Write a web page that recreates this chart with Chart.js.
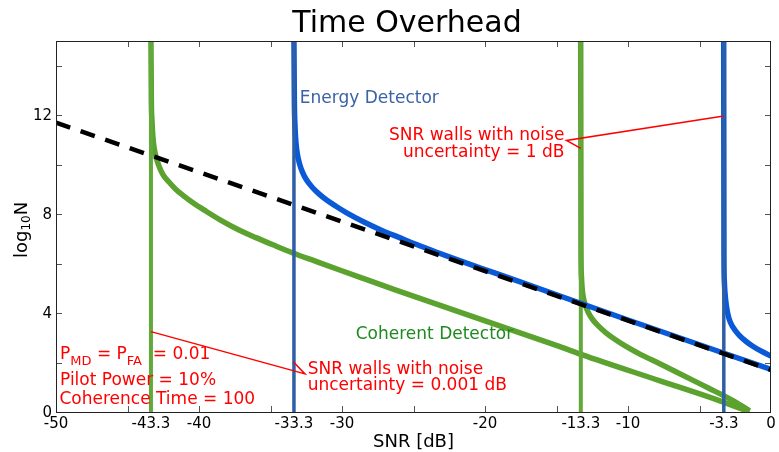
<!DOCTYPE html>
<html>
<head>
<meta charset="utf-8">
<script src="https://cdn.jsdelivr.net/npm/chart.js@4.4.1/dist/chart.umd.min.js"></script>
<style>
  html, body { margin: 0; padding: 0; background: #fff; }
</style>
</head>
<body>
<canvas id="c" width="779" height="452"></canvas>
<script>
// axis range and ticks
const xMin = -50, xMax = 0, yMin = 0, yMax = 15;
const xTickValues = [-50, -43.36, -40, -33.36, -30, -20, -13.3, -10, -3.3, 0];
const xTickLabels = ['-50', '-43.3', '-40', '-33.3', '-30', '-20', '-13.3', '-10', '-3.3', '0'];
const yTickValues = [0, 4, 8, 12];
const xMinorTicks = [-45, -40, -35, -30, -25, -20, -15, -10, -5];
const yMinorTicks = [2, 4, 6, 8, 10, 12, 14];

// energy detector without uncertainty (dashed)
const idealX = [-50, 0];
const idealY = [11.7, 1.7];

// energy detector, noise uncertainty 0.001 dB
const energyAX = [-33.37, -33.332, -33.29, -33.22, -33.129, -32.975, -32.78, -32.521, -32.101, -31.612, -31.052, -30.423, -29.514, -28.465, -27.206, -26.017, -24.829, -23.43, -21.822, -20.213, -18.325, -10, 0];
const energyAY = [16, 12.6, 11.6, 10.9, 10.45, 10.05, 9.72, 9.42, 9.1, 8.82, 8.56, 8.32, 8.0, 7.68, 7.34, 7.06, 6.78, 6.47, 6.13, 5.8, 5.42, 3.72, 1.72];

// energy detector, noise uncertainty 1 dB
const energyBX = [-3.31, -3.29, -3.265, -3.216, -3.111, -2.95, -2.671, -2.251, -1.713, -1.272, -0.783, 0];
const energyBY = [16, 6.5, 5.3, 4.8, 4.26, 3.8, 3.44, 3.12, 2.84, 2.66, 2.49, 2.26];

// coherent detector, 0.001 dB
const coherentAX = [-43.37, -43.332, -43.29, -43.22, -43.129, -42.975, -42.78, -42.521, -42.101, -41.612, -41.052, -40.423, -39.514, -38.465, -37.206, -36.017, -34.829, -33.43, -31.822, -30.213, -28.325, -26.227, -14.76, -13.24, -7.76, -3.57, -1.5];
const coherentAY = [16, 12.6, 11.8, 11.1, 10.65, 10.25, 9.92, 9.6, 9.3, 9.0, 8.73, 8.46, 8.12, 7.75, 7.36, 7.05, 6.76, 6.43, 6.09, 5.75, 5.36, 4.93, 2.64, 2.32, 1.26, 0.45, 0];

// coherent detector, 1 dB
const coherentBX = [-13.31, -13.286, -13.258, -13.216, -13.174, -13.076, -12.936, -12.741, -12.475, -12.111, -11.538, -10.922, -10.139, -9.104, -7.81, -6.657, -5.482, -4.349, -3.146, -2.391, -1.5];
const coherentBY = [16, 6.5, 5.5, 5.08, 4.82, 4.5, 4.24, 3.98, 3.74, 3.5, 3.2, 2.94, 2.65, 2.32, 1.96, 1.63, 1.29, 0.96, 0.61, 0.37, 0.05];

// SNR walls
const greenWalls = [-43.36, -13.3];
const blueWalls = [-33.36, -3.3];

const green = '#5ca22f';
const greenWall = '#62a83a';
const blue = '#0a5ad8';
const blueWall = '#2d5ea6';
const red = '#ff0000';
const FONT = '"DejaVu Sans", sans-serif';

const pts = (xs, ys) => xs.map((v, i) => ({ x: v, y: ys[i] }));
const wall = v => [{ x: v, y: yMin }, { x: v, y: yMax }];

const curve = (data, color, width, order) => ({
  data, borderColor: color, borderWidth: width, pointRadius: 0,
  cubicInterpolationMode: 'monotone', fill: false, order
});

const datasets = [
  { data: pts(idealX, idealY), borderColor: '#000', borderWidth: 4.5, borderDash: [15, 11], pointRadius: 0, order: 0 },
  curve(wall(blueWalls[0]), blueWall, 3.5, 1),
  curve(wall(blueWalls[1]), blueWall, 3.5, 1),
  curve(pts(energyAX, energyAY), blue, 5.5, 2),
  curve(pts(energyBX, energyBY), blue, 5.5, 2),
  curve(wall(greenWalls[0]), greenWall, 4, 3),
  curve(wall(greenWalls[1]), greenWall, 4, 3),
  curve(pts(coherentAX, coherentAY), green, 5.5, 4),
  curve(pts(coherentBX, coherentBY), green, 5.5, 4)
];

function drawRuns(ctx, runs, x, y, rotate) {
  // runs: [text, size, dy]
  ctx.save();
  ctx.translate(x, y);
  if (rotate) ctx.rotate(-Math.PI / 2);
  let cx = 0;
  for (const [t, size, dy] of runs) {
    ctx.font = size + 'px ' + FONT;
    ctx.fillText(t, cx, dy);
    cx += ctx.measureText(t).width;
  }
  ctx.restore();
}

const overlay = {
  id: 'overlay',
  beforeDatasetsDraw(chart) {
    const { ctx, chartArea: a, scales: { x, y } } = chart;
    ctx.save();
    ctx.strokeStyle = '#555';
    ctx.lineWidth = 1;
    ctx.beginPath();
    for (const v of xMinorTicks) {
      const px = Math.round(x.getPixelForValue(v)) + 0.5;
      ctx.moveTo(px, a.bottom); ctx.lineTo(px, a.bottom - 6);
      ctx.moveTo(px, a.top); ctx.lineTo(px, a.top + 6);
    }
    for (const v of yMinorTicks) {
      const py = Math.round(y.getPixelForValue(v)) + 0.5;
      ctx.moveTo(a.left, py); ctx.lineTo(a.left + 6, py);
      ctx.moveTo(a.right, py); ctx.lineTo(a.right - 6, py);
    }
    ctx.stroke();
    ctx.restore();
  },
  afterDatasetsDraw(chart) {
    const { ctx, chartArea: a, scales: { x, y } } = chart;
    const X = v => x.getPixelForValue(v), Y = v => y.getPixelForValue(v);
    ctx.save();
    // frame
    ctx.strokeStyle = '#222';
    ctx.lineWidth = 1;
    ctx.strokeRect(a.left + 0.5, a.top + 0.5, a.right - a.left - 1, a.bottom - a.top);

    // pointer lines
    ctx.strokeStyle = red;
    ctx.lineWidth = 1.5;
    ctx.beginPath();
    ctx.moveTo(X(-3.3), Y(11.97)); ctx.lineTo(X(-14.3), Y(10.98)); ctx.lineTo(X(-13.3), Y(10.66));
    ctx.moveTo(X(-43.36), Y(3.25)); ctx.lineTo(X(-32.59), Y(1.54)); ctx.lineTo(X(-33.41), Y(2.03));
    ctx.stroke();

    ctx.textBaseline = 'alphabetic';
    // curve labels
    ctx.fillStyle = '#3b62a6';
    ctx.font = '17px ' + FONT;
    ctx.textAlign = 'left';
    ctx.fillText('Energy Detector', X(-32.95), Y(12.5));
    ctx.fillStyle = '#1f8a1f';
    ctx.fillText('Coherent Detector', X(-29.04), Y(2.95));

    // wall notes
    ctx.fillStyle = red;
    ctx.textAlign = 'right';
    ctx.fillText('SNR walls with noise', X(-14.45), Y(11.0));
    ctx.fillText('uncertainty = 1 dB', X(-14.45), Y(10.32));
    ctx.textAlign = 'left';
    ctx.fillText('SNR walls with noise', X(-32.4), Y(1.54));
    ctx.fillText('uncertainty = 0.001 dB', X(-32.4), Y(0.89));

    // parameters
    drawRuns(ctx, [['P', 17, 0], ['MD', 13, 6], [' = P', 17, 0], ['FA', 13, 6], ['  = 0.01', 17, 0]], X(-49.72), Y(2.14), false);
    ctx.font = '17px ' + FONT;
    ctx.fillText('Pilot Power = 10%', X(-49.72), Y(1.09));
    ctx.fillText('Coherence Time = 100', X(-49.76), Y(0.32));

    // title and axis titles
    ctx.fillStyle = '#000';
    ctx.textAlign = 'center';
    ctx.font = '30px ' + FONT;
    ctx.fillText('Time Overhead', 407, 32);
    ctx.font = '18px ' + FONT;
    ctx.fillText('SNR [dB]', (a.left + a.right) / 2, 447);
    ctx.textAlign = 'left';
    drawRuns(ctx, [['log', 18, 0], ['10', 12, 3], ['N', 18, 0]], 27, 258, true);
    ctx.restore();
  }
};

new Chart(document.getElementById('c'), {
  type: 'line',
  data: { datasets },
  options: {
    responsive: false,
    devicePixelRatio: 1,
    animation: false,
    layout: { padding: { top: 41, right: 8, left: 0, bottom: 0 } },
    plugins: { legend: { display: false }, tooltip: { enabled: false }, title: { display: false } },
    elements: { line: { tension: 0 } },
    scales: {
      x: {
        type: 'linear', min: xMin, max: xMax,
        grid: { display: false, drawTicks: false }, border: { display: false },
        afterBuildTicks: s => { s.ticks = xTickValues.map(v => ({ value: v })); },
        afterFit: s => { s.height = 40; },
        ticks: {
          autoSkip: false, maxRotation: 0, padding: 3, color: '#000',
          font: { family: 'DejaVu Sans', size: 15 },
          callback: (v, i) => xTickLabels[i]
        }
      },
      y: {
        type: 'linear', min: yMin, max: yMax,
        grid: { display: false, drawTicks: false }, border: { display: false },
        afterBuildTicks: s => { s.ticks = yTickValues.map(v => ({ value: v })); },
        afterFit: s => { s.width = 56; },
        ticks: {
          padding: 4, labelOffset: 1, color: '#000',
          font: { family: 'DejaVu Sans', size: 15 },
          callback: (v, i) => String(yTickValues[i])
        }
      }
    }
  },
  plugins: [overlay]
});
</script>
</body>
</html>
